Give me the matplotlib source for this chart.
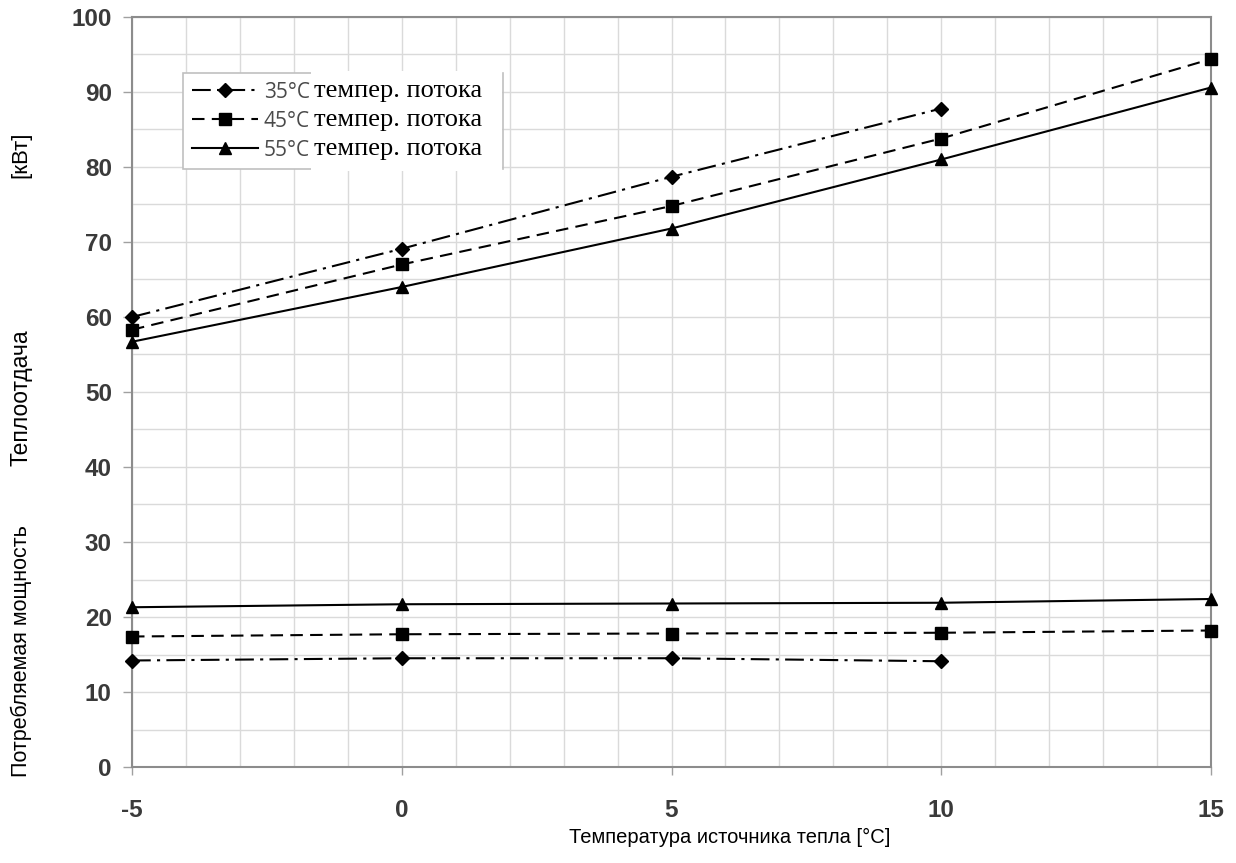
import matplotlib
matplotlib.use("Agg")
import matplotlib.pyplot as plt
from matplotlib.patches import Rectangle
from matplotlib.lines import Line2D
from matplotlib.ticker import MultipleLocator

plt.rcParams['axes.unicode_minus'] = False

# ---- data ----
source_temp = [-5, 0, 5, 10, 15]
heat_35 = [60.0, 69.1, 78.7, 87.8]
heat_45 = [58.3, 67.0, 74.8, 83.8, 94.4]
heat_55 = [56.7, 64.0, 71.8, 81.0, 90.6]
power_35 = [14.2, 14.5, 14.5, 14.1]
power_45 = [17.4, 17.7, 17.8, 17.9, 18.2]
power_55 = [21.3, 21.7, 21.8, 21.9, 22.4]
legend_labels = ["35°C", "45°C", "55°C"]
legend_suffix = "темпер. потока"
xlabel = "Температура источника тепла [°C]"
ylabel_parts = ["[кВт]", "Теплоотдача", "Потребляемая мощность"]
xticks = [-5, 0, 5, 10, 15]
yticks = list(range(0, 101, 10))

W, H = 1236, 863
fig = plt.figure(figsize=(W / 100, H / 100), dpi=100)
AX_L, AX_R, AX_T, AX_B = 132, 1211, 17, 767
ax = fig.add_axes([AX_L / W, 1 - AX_B / H, (AX_R - AX_L) / W, (AX_B - AX_T) / H])

sans = ['Liberation Sans', 'DejaVu Sans']

lw = 1.5
ls35 = (0, (9, 3, 1.5, 3))
ls45 = (0, (6, 3.5))
h35, = ax.plot(source_temp[:4], heat_35, color='black', lw=lw, ls=ls35,
               marker='D', ms=7, clip_on=False, zorder=5)
h45, = ax.plot(source_temp, heat_45, color='black', lw=lw, ls=ls45,
               marker='s', ms=8.5, clip_on=False, zorder=5)
h55, = ax.plot(source_temp, heat_55, color='black', lw=lw, ls='-',
               marker='^', ms=9, clip_on=False, zorder=5)
ax.plot(source_temp[:4], power_35, color='black', lw=lw, ls=ls35,
        marker='D', ms=7, clip_on=False, zorder=5)
ax.plot(source_temp, power_45, color='black', lw=lw, ls=ls45,
        marker='s', ms=8.5, clip_on=False, zorder=5)
ax.plot(source_temp, power_55, color='black', lw=lw, ls='-',
        marker='^', ms=9, clip_on=False, zorder=5)

ax.set_xlim(-5, 15)
ax.set_ylim(0, 100)
ax.set_xticks(xticks)
ax.set_yticks(yticks)
ax.xaxis.set_minor_locator(MultipleLocator(1))
ax.yaxis.set_minor_locator(MultipleLocator(5))
ax.grid(True, which='both', color='#dadada', lw=1)
ax.set_axisbelow(True)
for s in ax.spines.values():
    s.set_color('#8c8c8c')
    s.set_linewidth(1.5)
ax.tick_params(axis='y', which='major', length=6.5, color='#a0a0a0', width=1,
               labelsize=17.5, labelcolor='#3a3a3a', pad=8)
ax.tick_params(axis='x', which='major', length=6, color='#a0a0a0', width=1,
               labelsize=17.5, labelcolor='#3a3a3a', pad=17)
ax.tick_params(which='minor', length=0)
for lab in ax.get_xticklabels() + ax.get_yticklabels():
    lab.set_family(sans)
    lab.set_fontweight('bold')

ax.set_xlabel(xlabel, fontsize=14.5, family=sans)
ax.xaxis.set_label_coords((730 - AX_L) / (AX_R - AX_L), -(837 - AX_B) / (AX_B - AX_T))
ax.xaxis.label.set_va('center')

fig.text(21 / W, 1 - 155 / H, ylabel_parts[0], rotation=90, ha='center', va='center',
         fontsize=16, family=sans)
fig.text(21 / W, 1 - 398 / H, ylabel_parts[1], rotation=90, ha='center', va='center',
         fontsize=16.5, family=sans)
fig.text(21 / W, 1 - 651 / H, ylabel_parts[2], rotation=90, ha='center', va='center',
         fontsize=15.5, family=sans)

leg = ax.legend([h35, h45, h55], legend_labels, loc='upper left',
                bbox_to_anchor=((183 - AX_L) / (AX_R - AX_L), 1 - (73 - AX_T) / (AX_B - AX_T)),
                borderaxespad=0, fancybox=False, framealpha=1, edgecolor='#c0c0c0',
                prop={'family': ['Open Sans'], 'size': 15}, handlelength=3.2,
                labelspacing=0.38, handletextpad=0.25, borderpad=0.42)
leg.get_frame().set_linewidth(1.2)
for t in leg.get_texts():
    t.set_color('#4a4a4a')

fig.canvas.draw()
r = fig.canvas.get_renderer()
fb = leg.get_frame().get_window_extent(r)
texts_bb = [t.get_window_extent(r) for t in leg.get_texts()]
x_start = max(b.x1 for b in texts_bb) + 1
x_right = 503
fig.patches.append(Rectangle((x_start, fb.y0 - 2), x_right - x_start - 1, fb.height + 4,
                             transform=None, facecolor='white', edgecolor='none',
                             zorder=10))
fig.lines.append(Line2D([x_right, x_right], [fb.y0, fb.y1], transform=None,
                        color='#c0c0c0', lw=1.2, zorder=11))
for b in texts_bb:
    fig.text(x_start + 3, (b.y0 + b.y1) / 2 + 1, legend_suffix, transform=None,
             ha='left', va='center', fontsize=19, family=['Liberation Serif'],
             zorder=11)

fig.savefig('out.png', dpi=100)
